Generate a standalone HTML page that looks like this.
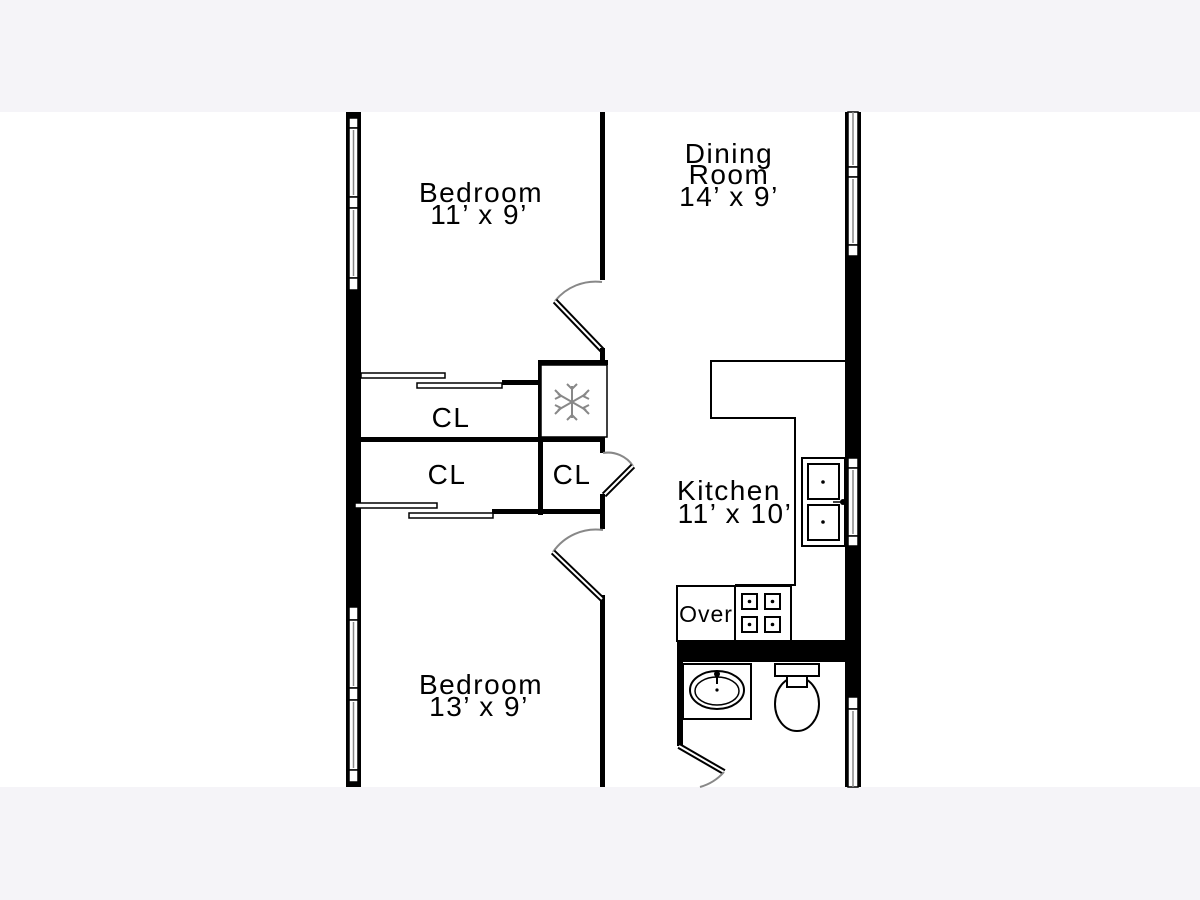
<!DOCTYPE html>
<html><head><meta charset="utf-8"><style>
html,body{margin:0;padding:0;background:#f5f4f8;}
svg{display:block}
text{font-family:"Liberation Sans",sans-serif;font-size:28px;fill:#000;text-anchor:middle;letter-spacing:1.5px}
</style></head><body>
<svg width="1200" height="900" viewBox="0 0 1200 900" xmlns="http://www.w3.org/2000/svg">
<rect x="0" y="0" width="1200" height="900" fill="#f5f4f8"/>
<rect x="0" y="112" width="1200" height="675" fill="#fff"/>

<rect x="346" y="112" width="15" height="675" fill="#000"/>
<g fill="#fff" stroke="#000" stroke-width="1.5">
<rect x="349" y="118" width="9" height="10"/><rect x="349" y="128" width="9" height="69"/>
<rect x="349" y="197" width="9" height="11"/><rect x="349" y="208" width="9" height="70"/>
<rect x="349" y="278" width="9" height="12"/>
<rect x="349" y="607" width="9" height="13"/><rect x="349" y="620" width="9" height="68"/>
<rect x="349" y="688" width="9" height="12"/><rect x="349" y="700" width="9" height="70"/>
<rect x="349" y="770" width="9" height="12"/>
</g>
<g stroke="#888" stroke-width="1.5"><line x1="353.5" y1="130" x2="353.5" y2="195"/><line x1="353.5" y1="210" x2="353.5" y2="276"/><line x1="353.5" y1="622" x2="353.5" y2="686"/><line x1="353.5" y1="702" x2="353.5" y2="768"/></g>

<rect x="845" y="112" width="16" height="675" fill="#000"/>
<g fill="#fff" stroke="#000" stroke-width="1.5">
<rect x="848" y="112" width="10" height="55"/><rect x="848" y="167" width="10" height="10"/>
<rect x="848" y="177" width="10" height="68"/><rect x="848" y="245" width="10" height="11"/>
<rect x="848" y="458" width="10" height="10"/><rect x="848" y="468" width="10" height="68"/><rect x="848" y="536" width="10" height="10"/>
<rect x="848" y="697" width="10" height="12"/><rect x="848" y="709" width="10" height="78"/>
</g>
<g stroke="#888" stroke-width="1.5"><line x1="853" y1="112" x2="853" y2="165"/><line x1="853" y1="179" x2="853" y2="243"/><line x1="853" y1="470" x2="853" y2="534"/><line x1="853" y1="711" x2="853" y2="787"/></g>

<rect x="600" y="112" width="5" height="168" fill="#000"/>
<rect x="600" y="595" width="5" height="192" fill="#000"/>
<path d="M602 282 A52 52 0 0 0 555 301" fill="none" stroke="#888" stroke-width="2"/>
<path d="M555 301 L602 350" stroke="#000" stroke-width="6"/><path d="M555 301 L602 350" stroke="#fff" stroke-width="2"/>
<rect x="600" y="348" width="5" height="14" fill="#000"/>
<rect x="538" y="360" width="70" height="5" fill="#000"/>
<rect x="538" y="360" width="5" height="155" fill="#000"/>
<rect x="541" y="365" width="66" height="72" fill="#fff" stroke="#000" stroke-width="1.5"/>
<g stroke="#888" stroke-width="2" fill="none">
<line x1="572" y1="386" x2="572" y2="418"/><line x1="558" y1="394" x2="586" y2="410"/><line x1="558" y1="410" x2="586" y2="394"/>
<path d="M567 384 L572 389 L577 384 M567 420 L572 415 L577 420 M555 390 L561 396 L555 399 M589 390 L583 396 L589 399 M555 414 L561 408 L555 405 M589 414 L583 408 L589 405"/>
</g>
<rect x="361" y="437" width="244" height="5" fill="#000"/>
<rect x="502" y="380" width="36" height="5" fill="#000"/>
<rect x="361" y="373" width="84" height="5" fill="#fff" stroke="#000" stroke-width="1.5"/>
<rect x="417" y="383" width="85" height="5" fill="#fff" stroke="#000" stroke-width="1.5"/>
<rect x="492" y="509" width="113" height="5" fill="#000"/>
<rect x="355" y="503" width="82" height="5" fill="#fff" stroke="#000" stroke-width="1.5"/>
<rect x="409" y="513" width="84" height="5" fill="#fff" stroke="#000" stroke-width="1.5"/>
<rect x="600" y="440" width="5" height="13" fill="#000"/>
<path d="M603 453 A30 30 0 0 1 633 466" fill="none" stroke="#888" stroke-width="2"/>
<path d="M633 466 L604 495" stroke="#000" stroke-width="6"/><path d="M633 466 L604 495" stroke="#fff" stroke-width="2"/>
<rect x="600" y="494" width="5" height="35" fill="#000"/>
<path d="M603 530 A52 52 0 0 0 553 552" fill="none" stroke="#888" stroke-width="2"/>
<path d="M553 552 L602 599" stroke="#000" stroke-width="6"/><path d="M553 552 L602 599" stroke="#fff" stroke-width="2"/>

<polyline points="845,361 711,361 711,418 795,418 795,585 735,585" fill="none" stroke="#000" stroke-width="2"/>
<rect x="677" y="586" width="58" height="55" fill="#fff" stroke="#000" stroke-width="2"/>
<rect x="735" y="586" width="56" height="55" fill="#fff" stroke="#000" stroke-width="2"/>
<g fill="#fff" stroke="#000" stroke-width="2">
<rect x="742" y="594" width="15" height="15"/><rect x="765" y="594" width="15" height="15"/>
<rect x="742" y="617" width="15" height="15"/><rect x="765" y="617" width="15" height="15"/>
</g>
<g fill="#000"><circle cx="749.5" cy="601.5" r="1.8"/><circle cx="772.5" cy="601.5" r="1.8"/><circle cx="749.5" cy="624.5" r="1.8"/><circle cx="772.5" cy="624.5" r="1.8"/></g>
<text x="706" y="622" style="font-size:23px;letter-spacing:1px">Over</text>
<rect x="802" y="458" width="43" height="88" fill="#fff" stroke="#000" stroke-width="2"/>
<rect x="808" y="464" width="31" height="35" fill="#fff" stroke="#000" stroke-width="2"/>
<rect x="808" y="505" width="31" height="35" fill="#fff" stroke="#000" stroke-width="2"/>
<circle cx="823" cy="482" r="1.8"/><circle cx="823" cy="522" r="1.8"/>
<circle cx="843" cy="502" r="3"/><line x1="833" y1="502" x2="843" y2="502" stroke="#000" stroke-width="1.5"/>
<rect x="677" y="640" width="184" height="22" fill="#000"/>
<rect x="677" y="662" width="6" height="84" fill="#000"/>
<rect x="683" y="664" width="68" height="55" fill="#fff" stroke="#000" stroke-width="2"/>
<ellipse cx="717" cy="690" rx="27" ry="19" fill="#fff" stroke="#000" stroke-width="2"/>
<ellipse cx="717" cy="691" rx="22" ry="14" fill="none" stroke="#000" stroke-width="1.5"/>
<circle cx="717" cy="674" r="3"/><line x1="717" y1="674" x2="717" y2="684" stroke="#000" stroke-width="2"/><circle cx="717" cy="690" r="1.6"/>
<rect x="775" y="664" width="44" height="12" fill="#fff" stroke="#000" stroke-width="2"/>
<ellipse cx="797" cy="704" rx="22" ry="27" fill="#fff" stroke="#000" stroke-width="2"/>
<rect x="787" y="676" width="20" height="11" fill="#fff" stroke="#000" stroke-width="2"/>
<path d="M679 746 L724 772" stroke="#000" stroke-width="6"/><path d="M679 746 L724 772" stroke="#fff" stroke-width="2"/>
<path d="M724 772 A50 50 0 0 1 700 787" fill="none" stroke="#888" stroke-width="2"/>

<text x="481" y="202">Bedroom</text><text x="479" y="224">11’ x 9’</text>
<text x="729" y="163">Dining</text><text x="729" y="184">Room</text><text x="729" y="206">14’ x 9’</text>
<text x="451" y="427">CL</text><text x="447" y="484">CL</text><text x="572" y="484">CL</text>
<text x="729" y="500">Kitchen</text><text x="735" y="523">11’ x 10’</text>
<text x="481" y="694">Bedroom</text><text x="479" y="716">13’ x 9’</text>
</svg>
</body></html>
